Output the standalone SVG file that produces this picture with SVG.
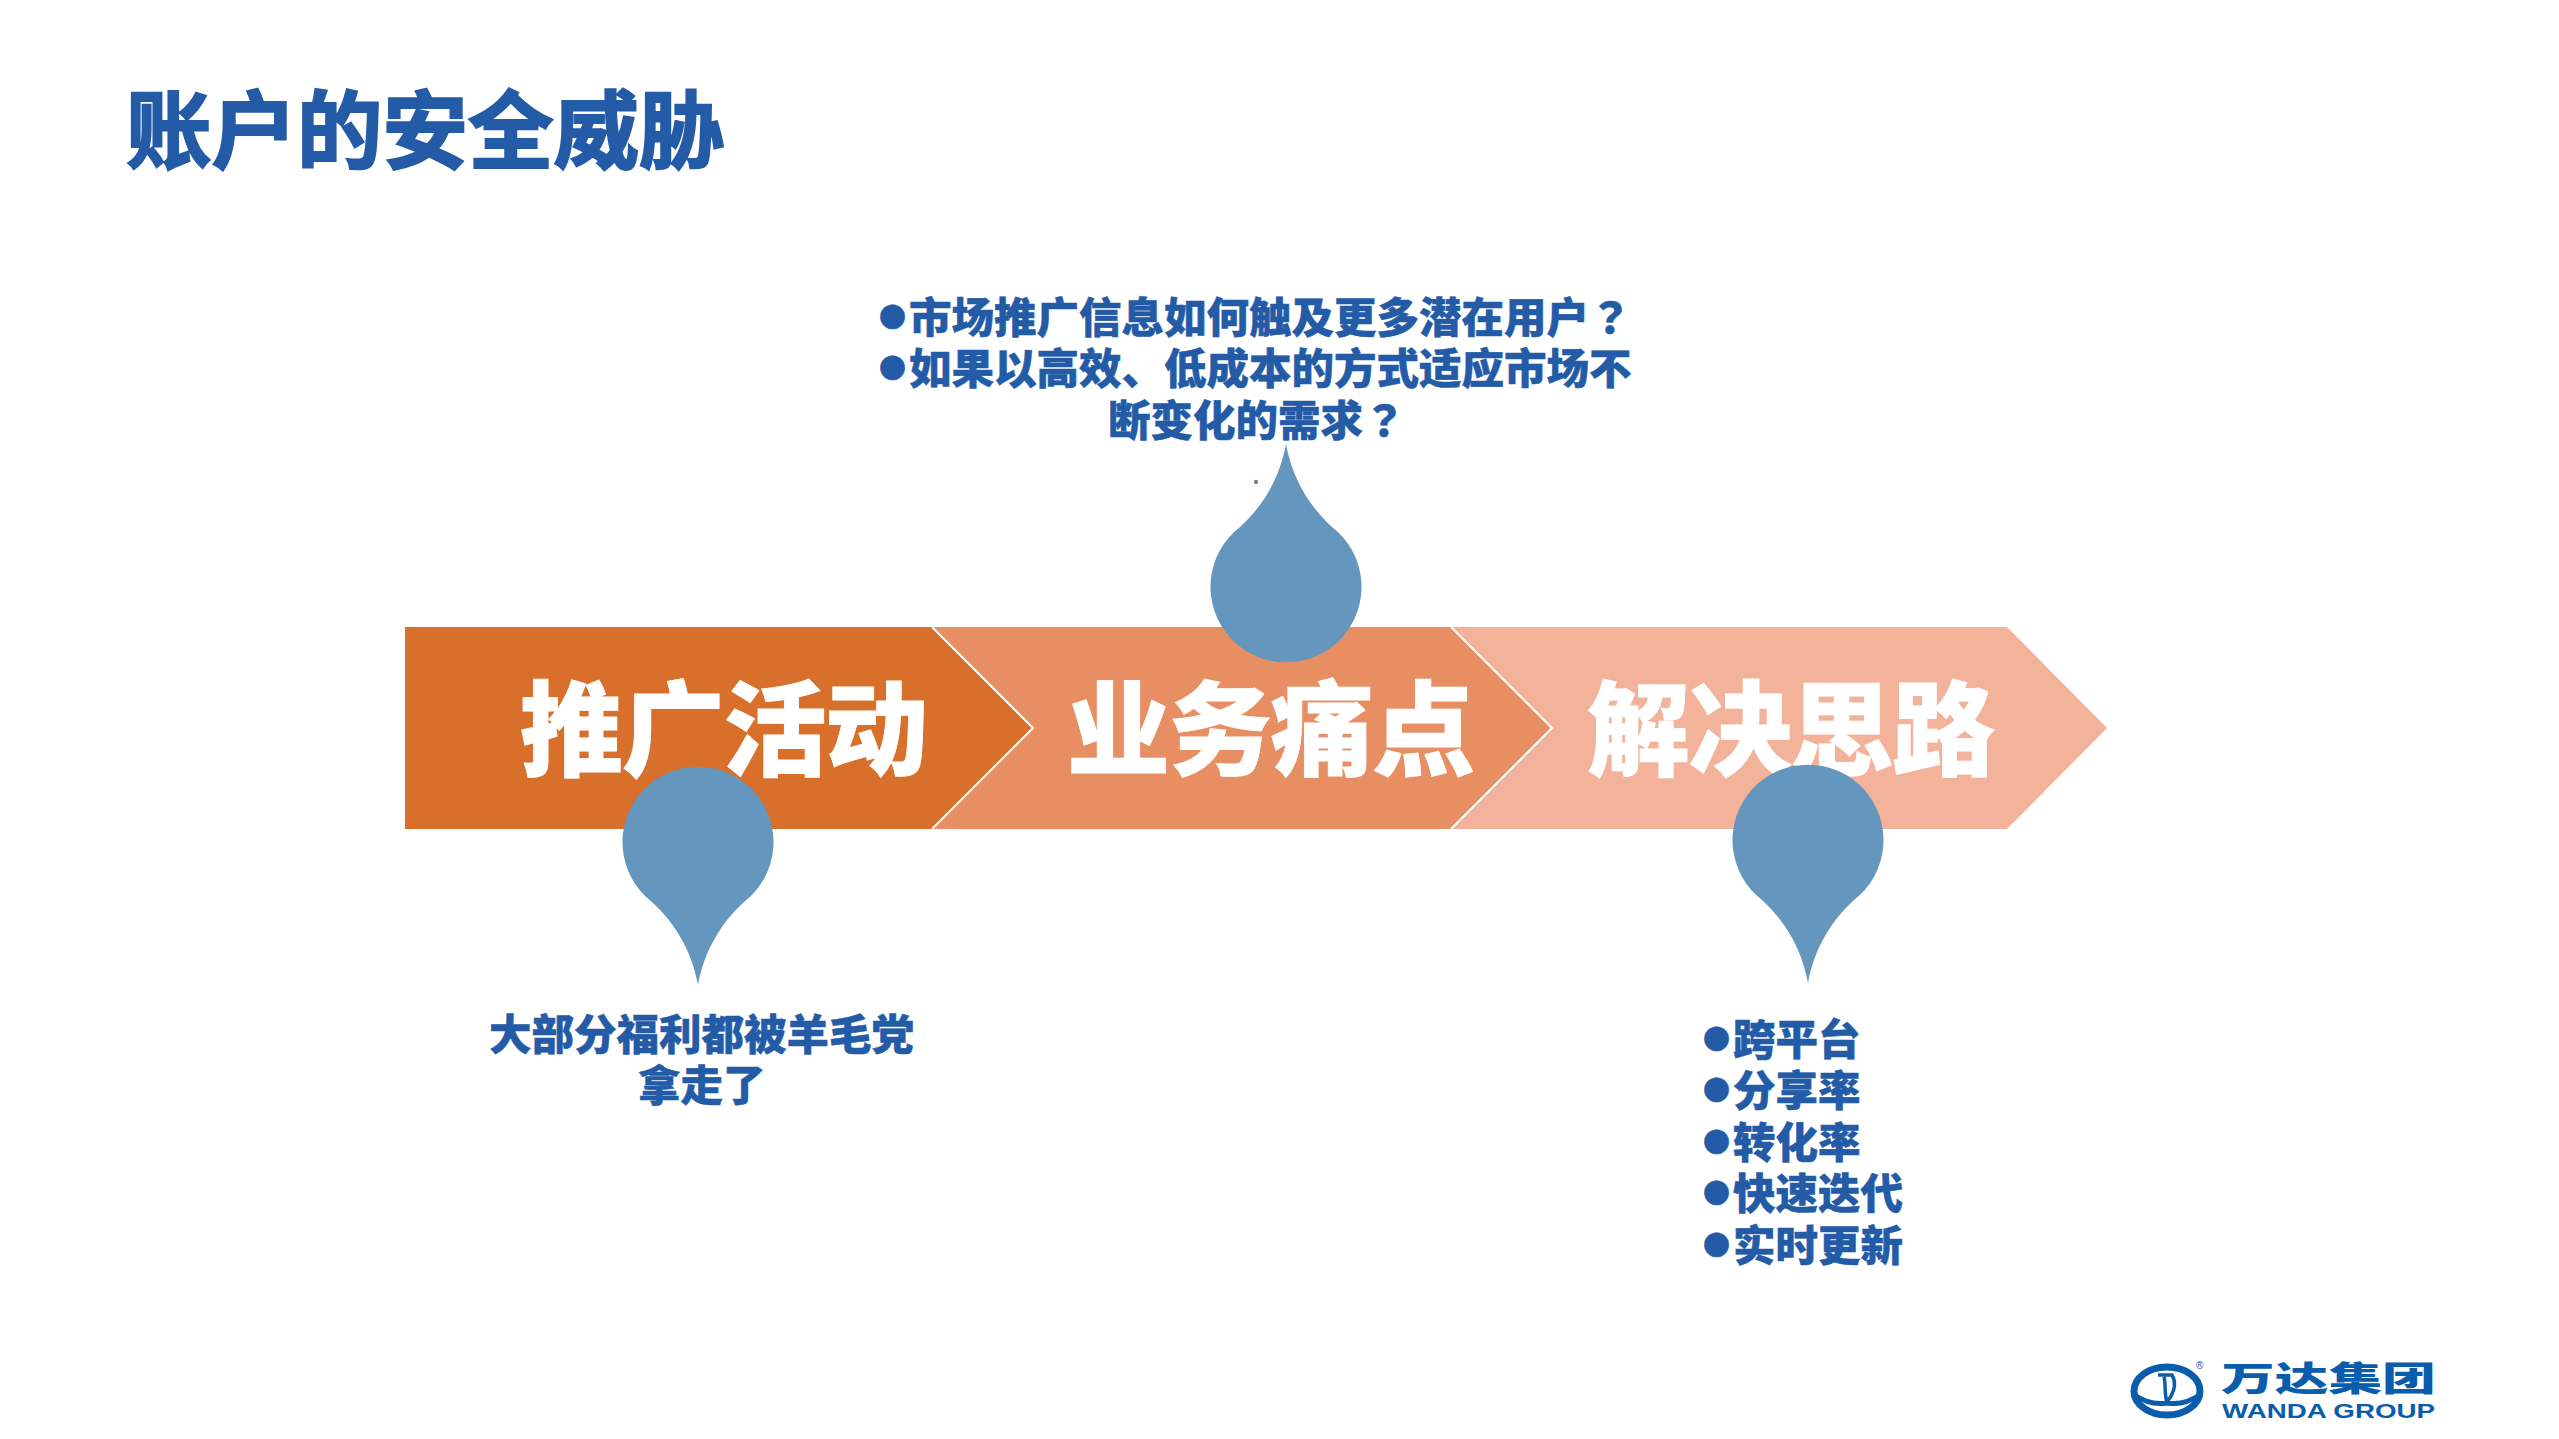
<svg xmlns="http://www.w3.org/2000/svg" width="2559" height="1439" viewBox="0 0 2559 1439">
<style>
text{font-family:"Noto Sans CJK SC","Noto Sans",sans-serif;font-weight:900}
.t{fill:#245BA7;stroke:#245BA7;stroke-width:.5;font-size:42.500px}
.bu{font-size:27px}
.q{font-family:"Noto Sans CJK TC",sans-serif}
.m{fill:#fff;stroke:#fff;stroke-width:.8;font-size:103px;letter-spacing:-1.300px}
.d{fill:#6596BD}
.sep{fill:none;stroke:#fff;stroke-width:2}
.l{fill:#0A5CAD}
</style>
<defs>
<path id="drop" d="M0,-143C6,-110 22,-82 46,-60A75.500,75.500 0 1 1 -46,-60C-22,-82 -6,-110 0,-143Z"/>
</defs>
<rect width="2559" height="1439" fill="#fff"/>
<g id="title"><text x="126" y="162" style="font-size:85.500px;fill:#245BA7;font-weight:700;stroke:#245BA7;stroke-width:2.200">账户的安全威胁</text></g>
<g id="step3"><path d="M1451,627H2007L2107,728L2007,829H1451L1552,728Z" fill="#F3B39B"/></g>
<g id="step2"><path d="M932,627H1451L1552,728L1451,829H932L1033,728Z" fill="#E78E63"/><path class="sep" d="M1451,627L1552,728L1451,829"/></g>
<g id="step1"><path d="M405,627H932L1033,728L932,829H405Z" fill="#D8702C"/><path class="sep" d="M932,627L1033,728L932,829"/></g>
<g id="step-labels">
<text class="m" x="520" y="768">推广活动</text>
<text class="m" x="1067" y="768">业务痛点</text>
<text class="m" x="1587" y="768">解决思路</text>
</g>
<g id="drop-top"><use href="#drop" class="d" transform="translate(1286,587)"/><circle cx="1256" cy="482" r="2.200" fill="#8A7A6A"/></g>
<g id="drop-left"><use href="#drop" class="d" transform="translate(698,842) rotate(180)"/></g>
<g id="drop-right"><use href="#drop" class="d" transform="translate(1808,840) rotate(180)"/></g>
<g id="note-top">
<text class="t" x="879" y="333"><tspan class="bu" dy="-6">●</tspan><tspan dx="3" dy="6">市场推广信息如何触及更多潜在用户</tspan><tspan class="q">？</tspan></text>
<text class="t" x="879" y="384"><tspan class="bu" dy="-6">●</tspan><tspan dx="3" dy="6">如果以高效、低成本的方式适应市场不</tspan></text>
<text class="t" x="1108" y="436">断变化的需求<tspan class="q">？</tspan></text>
</g>
<g id="note-left">
<text class="t" x="489" y="1050">大部分福利都被羊毛党</text>
<text class="t" x="638" y="1101">拿走了</text>
</g>
<g id="note-right">
<text class="t" x="1703" y="1055"><tspan class="bu" dy="-6">●</tspan><tspan dx="3" dy="6">跨平台</tspan></text>
<text class="t" x="1703" y="1106"><tspan class="bu" dy="-6">●</tspan><tspan dx="3" dy="6">分享率</tspan></text>
<text class="t" x="1703" y="1158"><tspan class="bu" dy="-6">●</tspan><tspan dx="3" dy="6">转化率</tspan></text>
<text class="t" x="1703" y="1209"><tspan class="bu" dy="-6">●</tspan><tspan dx="3" dy="6">快速迭代</tspan></text>
<text class="t" x="1703" y="1261"><tspan class="bu" dy="-6">●</tspan><tspan dx="3" dy="6">实时更新</tspan></text>
</g>
<g id="logo">
<ellipse cx="2167" cy="1391" rx="33" ry="24" fill="none" stroke="#0A5CAD" stroke-width="7"/>
<path d="M2133,1394Q2150,1406 2167,1403Q2184,1406 2201,1394" fill="none" stroke="#0A5CAD" stroke-width="5"/>
<path d="M2158,1375H2172C2178,1385 2172,1396 2167,1402C2164,1394 2166,1384 2164,1377" fill="none" stroke="#0A5CAD" stroke-width="3.500"/>
<text class="l" x="2196" y="1369" style="font-family:'Liberation Sans',sans-serif;font-size:10px;font-weight:400">®</text>
<text class="l" transform="translate(2221,1391) scale(1.580,1)" style="font-size:34px;font-weight:900">万达集团</text>
<text class="l" x="2222" y="1418" textLength="213" lengthAdjust="spacingAndGlyphs" style="font-family:'Liberation Sans',sans-serif;font-size:21px;font-weight:700">WANDA GROUP</text>
</g>
</svg>
